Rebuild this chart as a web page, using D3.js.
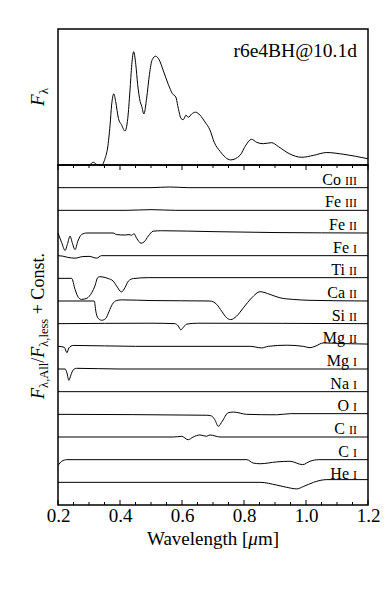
<!DOCTYPE html>
<html>
<head>
<meta charset="utf-8">
<script src="https://cdn.jsdelivr.net/npm/d3@7"></script>
<style>
  body { margin: 0; background: #fff; }
  svg text { font-family: "Liberation Serif", "Times New Roman", Times, "DejaVu Serif", serif; }
</style>
</head>
<body>
<svg id="chart" width="387" height="595"></svg>
<script>
// top panel: total spectrum (arbitrary units)
const topWave = [0.2, 0.3, 0.314, 0.325, 0.341, 0.352, 0.36, 0.368, 0.373, 0.38, 0.386, 0.395, 0.405, 0.416, 0.425, 0.432, 0.438, 0.444, 0.451, 0.457, 0.465, 0.47, 0.477, 0.486, 0.495, 0.504, 0.515, 0.526, 0.54, 0.556, 0.569, 0.58, 0.588, 0.597, 0.604, 0.613, 0.62, 0.631, 0.644, 0.658, 0.674, 0.69, 0.704, 0.723, 0.757, 0.787, 0.806, 0.824, 0.841, 0.862, 0.889, 0.911, 0.948, 0.986, 1.024, 1.067, 1.12, 1.2];
const topFlux = [0, 0, 0.024, 0.005, 0, 0.06, 0.15, 0.354, 0.53, 0.628, 0.56, 0.41, 0.354, 0.30, 0.41, 0.65, 0.885, 1.0, 0.885, 0.71, 0.56, 0.52, 0.45, 0.59, 0.80, 0.93, 0.96, 0.93, 0.83, 0.71, 0.63, 0.60, 0.50, 0.41, 0.40, 0.44, 0.42, 0.45, 0.466, 0.44, 0.38, 0.31, 0.2, 0.12, 0.045, 0.085, 0.175, 0.227, 0.2, 0.188, 0.197, 0.162, 0.097, 0.068, 0.085, 0.11, 0.095, 0.055];

// bottom panel: flux ratio [wavelength, F_all / F_less]
const coIII = [[0.2, 1], [0.5, 1], [0.56, 1.03], [0.62, 1], [1.2, 1]];
const feIII = [[0.2, 1], [0.42, 1], [0.5, 1.03], [0.58, 1], [1.2, 1]];
const feII = [[0.2, 1], [0.212, 0.57], [0.223, 0.23], [0.23, 0.49], [0.239, 0.86], [0.246, 0.57], [0.255, 0.27], [0.264, 0.64], [0.276, 0.93], [0.293, 1], [0.378, 1], [0.389, 0.93], [0.416, 0.91], [0.429, 0.93], [0.438, 0.9], [0.445, 0.97], [0.454, 0.76], [0.468, 0.55], [0.478, 0.61], [0.491, 0.86], [0.507, 1.08], [0.534, 1.1], [0.7, 1.06], [0.9, 1.02], [1.2, 1.0]];
const feI = [[0.2, 1], [0.215, 0.98], [0.23, 0.93], [0.255, 0.89], [0.28, 0.96], [0.3, 0.97], [0.325, 0.89], [0.34, 1], [1.2, 1]];
const tiII = [[0.2, 1], [0.244, 1], [0.255, 0.51], [0.266, 0.15], [0.276, 0.07], [0.293, 0.12], [0.309, 0.37], [0.319, 0.66], [0.328, 1.03], [0.335, 1.07], [0.362, 0.99], [0.378, 0.88], [0.389, 0.66], [0.405, 0.4], [0.416, 0.59], [0.427, 0.88], [0.443, 0.99], [0.491, 1.03], [1.2, 1.03]];
const caII = [[0.2, 1], [0.317, 1], [0.322, 0.55], [0.328, 0.26], [0.341, 0.15], [0.354, 0.23], [0.365, 0.55], [0.375, 0.85], [0.389, 1.02], [0.405, 1.05], [0.5, 1.02], [0.69, 1.0], [0.712, 0.85], [0.728, 0.55], [0.744, 0.26], [0.757, 0.18], [0.776, 0.33], [0.798, 0.7], [0.825, 1.14], [0.852, 1.41], [0.884, 1.29], [0.916, 1.14], [0.959, 1.07], [1.013, 1.03], [1.2, 1.0]];
const siII = [[0.2, 1], [0.5, 1.02], [0.577, 1.0], [0.588, 0.9], [0.596, 0.73], [0.605, 0.85], [0.615, 0.98], [0.65, 1.02], [1.2, 1.0]];
const mgII = [[0.2, 1], [0.22, 0.96], [0.229, 0.72], [0.235, 0.93], [0.249, 1.04], [0.45, 1.0], [0.82, 1.0], [0.857, 0.93], [0.878, 1.0], [0.938, 1.05], [0.991, 1.0], [1.013, 0.94], [1.029, 1.0], [1.056, 1.15], [1.12, 1.12], [1.2, 1.1]];
const mgI = [[0.2, 1], [0.223, 1], [0.229, 0.82], [0.235, 0.5], [0.242, 0.75], [0.249, 0.96], [0.26, 1.03], [0.4, 1.0], [1.2, 1.0]];
const naI = [[0.2, 1], [1.2, 1]];
const oI = [[0.2, 1], [0.68, 0.96], [0.695, 0.93], [0.706, 0.76], [0.717, 0.47], [0.73, 0.7], [0.749, 1.07], [0.766, 1.1], [0.809, 1.0], [0.905, 0.98], [0.95, 1.03], [1.2, 1.03]];
const cII = [[0.2, 1], [0.572, 1.0], [0.599, 1.03], [0.62, 0.88], [0.636, 1.0], [0.658, 1.09], [0.679, 1.03], [0.69, 1.09], [0.723, 1.0], [1.2, 1.0]];
const cI = [[0.2, 0.74], [0.212, 0.93], [0.228, 1.0], [0.809, 1.0], [0.83, 0.85], [0.852, 0.82], [0.905, 0.9], [0.948, 0.93], [0.989, 0.78], [1.013, 0.93], [1.04, 1.0], [1.2, 1.0]];
const heI = [[0.2, 1], [0.852, 1.0], [0.905, 0.88], [0.938, 0.78], [0.97, 0.71], [0.991, 0.81], [1.024, 1.0], [1.067, 1.12], [1.2, 1.12]];

const ionSeries = [coIII, feIII, feII, feI, tiII, caII, siII, mgII, mgI, naI, oI, cII, cI, heI];
const ionElements = ["Co", "Fe", "Fe", "Fe", "Ti", "Ca", "Si", "Mg", "Mg", "Na", "O", "C", "C", "He"];
const ionStages = ["III", "III", "II", "I", "II", "II", "II", "II", "I", "I", "I", "II", "I", "I"];

const majorTicks = [0.2, 0.4, 0.6, 0.8, 1.0, 1.2];
const minorTicks = d3.range(0.25, 1.2, 0.05).filter(v => Math.abs(v * 5 - Math.round(v * 5)) > 1e-6);

const modelName = "r6e4BH@10.1d";

// layout
const L = 58, R = 368, T = 29, M = 165, B = 505;
const serif = '"Liberation Serif", "Times New Roman", Times, "DejaVu Serif", serif';

const svg = d3.select('#chart');

const x = d3.scaleLinear().domain([0.2, 1.2]).range([L, R]);
const yTop = d3.scaleLinear().domain([0, 1.2]).range([M, T]);
const yBot = d3.scaleLinear().domain([0, 15]).range([B, M]);

const line = d3.line().curve(d3.curveMonotoneX);

// top spectrum
svg.append('path')
    .datum(topWave.map((w, i) => [x(w), yTop(topFlux[i])]))
    .attr('fill', 'none')
    .attr('stroke', '#000')
    .attr('stroke-width', 1)
    .attr('d', line);

// ratio spectra, offset by a constant
ionSeries.forEach((s, i) => {
    const off = ionSeries.length - 1 - i;
    svg.append('path')
        .datum(s.map(d => [x(d[0]), yBot(d[1] + off)]))
        .attr('fill', 'none')
        .attr('stroke', '#000')
        .attr('stroke-width', 1)
        .attr('d', line);

    const t = svg.append('text')
        .attr('x', 357)
        .attr('y', yBot(1 + off) - 3)
        .attr('text-anchor', 'end')
        .attr('font-family', serif)
        .attr('font-size', 16);
    t.append('tspan').text(ionElements[i] + ' ');
    t.append('tspan').attr('font-size', 12).text(ionStages[i]);
});

// frames
[[T, M], [M, B]].forEach(p => {
    svg.append('rect')
        .attr('x', L).attr('y', p[0])
        .attr('width', R - L).attr('height', p[1] - p[0])
        .attr('fill', 'none')
        .attr('stroke', '#000')
        .attr('stroke-width', 1.5);
});

// ticks, pointing inward
function ticks(vals, len) {
    vals.forEach(v => {
        svg.append('line').attr('x1', x(v)).attr('x2', x(v))
            .attr('y1', B).attr('y2', B - len)
            .attr('stroke', '#000').attr('stroke-width', 1);
        svg.append('line').attr('x1', x(v)).attr('x2', x(v))
            .attr('y1', M).attr('y2', M + len)
            .attr('stroke', '#000').attr('stroke-width', 1);
    });
}
ticks(majorTicks, 5);
ticks(minorTicks, 3);

const xAxis = svg.append('g')
    .attr('transform', `translate(0,${B})`)
    .call(d3.axisBottom(x).tickValues(majorTicks).tickFormat(d3.format('.1f')).tickSize(0).tickPadding(4));
xAxis.attr('font-family', serif).attr('font-size', 19);
xAxis.select('.domain').remove();
xAxis.selectAll('text')
    .attr('font-family', serif)
    .attr('font-size', 19)
    .attr('fill', '#000');

// axis labels
const xl = svg.append('text')
    .attr('x', (L + R) / 2).attr('y', 545)
    .attr('text-anchor', 'middle')
    .attr('font-family', serif)
    .attr('font-size', 19);
xl.append('tspan').text('Wavelength [');
xl.append('tspan').attr('font-style', 'italic').text('\u03bc');
xl.append('tspan').text('m]');

const yl1 = svg.append('text')
    .attr('transform', `translate(44,${(T + M) / 2}) rotate(-90)`)
    .attr('text-anchor', 'middle')
    .attr('font-family', serif)
    .attr('font-size', 19);
yl1.append('tspan').attr('font-style', 'italic').text('F');
yl1.append('tspan').attr('font-size', 13).attr('dy', 4).text('\u03bb');

const yl2 = svg.append('text')
    .attr('transform', 'translate(44,326) rotate(-90)')
    .attr('text-anchor', 'middle')
    .attr('font-family', serif)
    .attr('font-size', 18);
yl2.append('tspan').attr('font-style', 'italic').text('F');
yl2.append('tspan').attr('font-size', 12.5).attr('dy', 4).text('\u03bb,All');
yl2.append('tspan').attr('dy', -4).text('/');
yl2.append('tspan').attr('font-style', 'italic').text('F');
yl2.append('tspan').attr('font-size', 12.5).attr('dy', 4).text('\u03bb,less');
yl2.append('tspan').attr('dy', -4).text(' + Const.');

// model name
svg.append('text')
    .attr('x', 357).attr('y', 57)
    .attr('text-anchor', 'end')
    .attr('font-family', serif)
    .attr('font-size', 19.5)
    .text(modelName);
</script>
</body>
</html>
